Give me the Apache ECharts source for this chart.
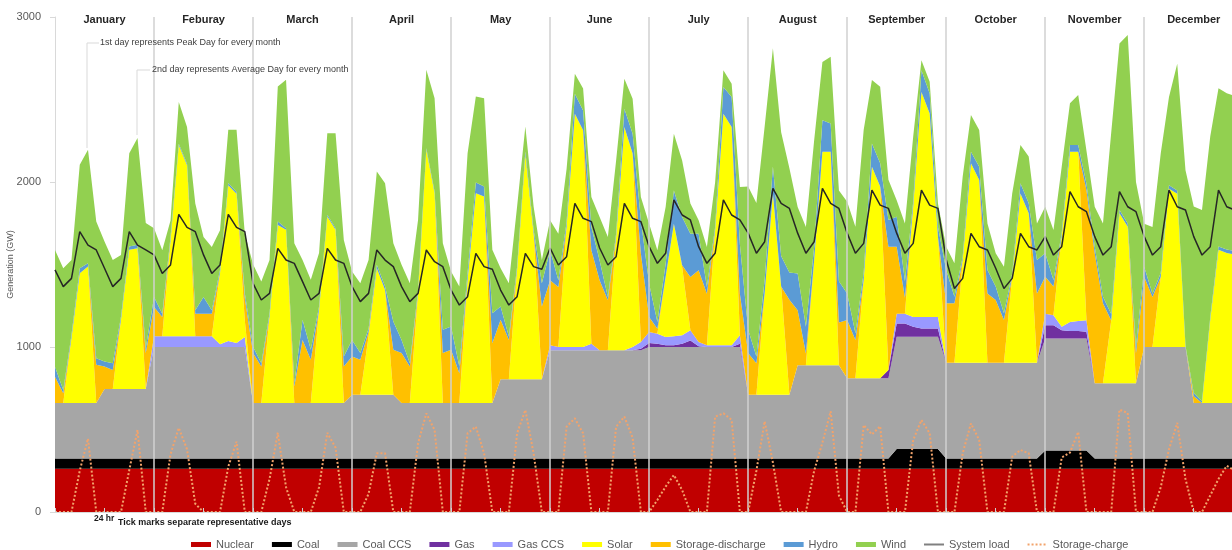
<!DOCTYPE html>
<html><head><meta charset="utf-8">
<script src="https://cdn.jsdelivr.net/npm/echarts@6/dist/echarts.min.js"></script>
<style>html,body{margin:0;padding:0;background:#fff}#c{width:1232px;height:550px}</style>
</head><body><div id="c"></div>
<script>
const months = ['January','Feburay','March','April','May','June','July','August','September','October','November','December'];
const dayNames = ['Peak day','Average day'];
const hours = ['02h','06h','10h','14h','18h','22h'];
const yMin = 0, yMax = 3000, yStep = 1000;

const nuclear = [
262,262,262,262,262,262,262,262,262,262,262,262,
262,262,262,262,262,262,262,262,262,262,262,262,
262,262,262,262,262,262,262,262,262,262,262,262,
262,262,262,262,262,262,262,262,262,262,262,262,
262,262,262,262,262,262,262,262,262,262,262,262,
262,262,262,262,262,262,262,262,262,262,262,262,
262,262,262,262,262,262,262,262,262,262,262,262,
262,262,262,262,262,262,262,262,262,262,262,262,
262,262,262,262,262,262,262,262,262,262,262,262,
262,262,262,262,262,262,262,262,262,262,262,262,
262,262,262,262,262,262,262,262,262,262,262,262,
262,262,262,262,262,262,262,262,262,262,262,262];
const coal = [
63,63,63,63,63,63,63,63,63,63,63,63,
63,63,63,63,63,63,63,63,63,63,63,63,
63,63,63,63,63,63,63,63,63,63,63,63,
63,63,63,63,63,63,63,63,63,63,63,63,
63,63,63,63,63,63,63,63,63,63,63,63,
63,63,63,63,63,63,63,63,63,63,63,63,
63,63,63,63,63,63,63,63,63,63,63,63,
63,63,63,63,63,63,63,63,63,63,63,63,
63,63,63,63,63,63,120,120,120,120,120,120,
63,63,63,63,63,63,63,63,63,63,63,63,
110,110,110,110,110,110,63,63,63,63,63,63,
63,63,63,63,63,63,63,63,63,63,63,63];
const coalCCS = [
335,335,335,335,335,335,420,420,420,420,420,420,
675,675,675,675,675,675,675,675,675,675,675,675,
335,335,335,335,335,335,335,335,335,335,335,335,
385,385,385,385,385,385,335,335,335,335,335,335,
335,335,335,335,335,335,480,480,480,480,480,480,
655,655,655,655,655,655,655,655,655,655,655,655,
675,675,675,675,675,675,675,675,675,675,675,675,
385,385,385,385,385,385,565,565,565,565,565,565,
485,485,485,485,485,485,680,680,680,680,680,680,
580,580,580,580,580,580,580,580,580,580,580,580,
680,680,680,680,680,680,455,455,455,455,455,455,
675,675,675,675,675,675,335,335,335,335,335,335];
const gas = [
0,0,0,0,0,0,0,0,0,0,0,0,
0,0,0,0,0,0,0,0,0,0,0,0,
0,0,0,0,0,0,0,0,0,0,0,0,
0,0,0,0,0,0,0,0,0,0,0,0,
0,0,0,0,0,0,0,0,0,0,0,0,
0,0,0,0,0,0,0,0,0,0,0,10,
25,20,10,10,20,40,5,0,0,0,0,20,
0,0,0,0,0,0,0,0,0,0,0,0,
0,0,0,0,0,50,80,80,60,50,50,50,
0,0,0,0,0,0,0,0,0,0,0,0,
80,80,50,45,45,40,0,0,0,0,0,0,
0,0,0,0,0,0,0,0,0,0,0,0];
const gasCCS = [
0,0,0,0,0,0,0,0,0,0,0,0,
65,65,65,65,65,65,65,65,16,36,24,61,
0,0,0,0,0,0,0,0,0,0,0,0,
0,0,0,0,0,0,0,0,0,0,0,0,
0,0,0,0,0,0,0,0,0,0,0,0,
30,20,20,20,20,40,0,0,0,0,20,40,
66,61,51,55,51,61,25,10,10,10,10,51,
0,0,0,0,0,0,0,0,0,0,0,0,
0,0,0,0,0,0,60,60,60,70,70,70,
0,0,0,0,0,0,0,0,0,0,0,0,
70,60,20,55,60,70,0,0,0,0,0,0,
0,0,0,0,0,0,0,0,0,0,0,0];
const solar = [
0,0,394,787,828,0,0,0,420,844,854,0,
0,0,581,1157,1036,0,0,0,432,944,905,100,
0,0,525,1080,1050,0,0,0,565,1131,1050,0,
0,0,354,768,636,0,0,0,666,1535,1272,0,
0,0,747,1272,1252,0,0,0,663,1360,885,0,
0,0,727,1414,1313,0,0,0,687,1353,1172,0,
0,0,363,682,414,0,0,0,697,1404,1323,0,
0,0,616,1222,657,0,0,0,636,1293,1293,0,
0,0,596,1283,1162,0,0,0,667,1364,1233,486,
0,0,622,1208,1107,0,0,0,521,1026,905,0,
0,0,547,1032,1027,0,0,0,380,1030,949,0,
0,0,424,959,929,0,0,0,505,929,909,901];
const storageDischarge = [
160,60,0,0,0,232,137,116,0,0,0,218,
177,117,0,0,0,137,137,137,0,0,0,137,
303,222,0,0,0,101,383,262,0,0,0,222,
233,212,27,0,0,273,303,222,0,0,0,303,
323,181,0,0,0,363,360,238,0,0,0,440,
394,364,0,0,0,566,424,303,0,0,0,536,
91,30,0,0,10,323,435,313,0,0,0,250,
253,192,0,0,0,576,333,71,0,0,0,259,
354,232,0,0,0,748,405,97,0,0,0,0,
360,360,0,0,0,420,380,259,0,0,0,420,
224,174,0,0,0,788,788,485,0,0,0,182,
424,303,0,0,0,0,41,0,0,0,0,0];
const hydro = [
60,20,20,31,20,40,30,40,20,20,20,30,
61,20,21,10,10,20,101,20,20,14,10,30,
38,20,20,21,10,20,122,61,20,10,10,60,
100,41,20,20,20,171,80,20,20,10,10,141,
141,41,44,65,61,182,80,21,20,20,20,142,
182,40,31,121,121,141,121,20,21,111,121,202,
202,40,81,202,293,263,222,41,20,162,182,300,
141,41,81,162,184,165,223,161,80,192,172,250,
161,41,44,141,141,162,182,100,30,132,121,61,
202,40,20,71,81,142,81,40,20,61,61,202,
142,40,20,40,40,40,40,40,40,20,20,38,
61,20,24,21,20,8,20,11,16,20,22,20];
const wind = [
708,738,454,626,687,828,727,627,373,566,647,758,
416,384,100,253,222,647,364,384,239,323,378,360,
500,495,323,818,899,848,363,424,324,495,576,707,
415,424,417,566,627,475,455,485,425,475,566,525,
334,485,724,521,535,384,233,323,363,151,141,141,
182,283,323,121,132,182,263,364,443,182,212,141,
363,435,343,344,343,182,81,242,271,101,81,349,
869,929,929,717,750,633,403,606,647,353,404,550,
555,646,865,384,465,244,101,349,395,60,71,140,
141,202,486,222,222,282,202,283,485,232,283,222,
282,303,404,253,303,200,242,444,1100,1010,1142,1000,
262,404,724,535,768,1063,1130,1160,1095,959,947,940];
const systemLoad = [
1467,1366,1416,1699,1618,1588,1477,1366,1416,1699,1618,1588,
1558,1446,1497,1804,1725,1699,1558,1446,1497,1804,1725,1699,
1386,1285,1325,1598,1527,1507,1396,1285,1325,1598,1527,1507,
1366,1275,1325,1588,1527,1487,1366,1275,1325,1588,1517,1487,
1345,1254,1305,1568,1487,1471,1345,1254,1305,1568,1487,1471,
1600,1497,1547,1871,1780,1760,1600,1497,1547,1871,1780,1760,
1608,1507,1568,1891,1800,1770,1608,1507,1568,1891,1800,1770,
1690,1568,1638,1962,1871,1840,1690,1568,1638,1962,1871,1840,
1690,1568,1628,1951,1860,1840,1690,1568,1628,1951,1860,1840,
1530,1355,1416,1689,1608,1588,1477,1355,1416,1689,1608,1588,
1669,1557,1608,1941,1850,1820,1669,1557,1608,1941,1850,1820,
1669,1557,1608,1951,1850,1830,1669,1557,1608,1951,1850,1830];
const storageCharge = [
0,0,0,250,445,0,0,0,0,254,497,0,
0,0,350,510,380,50,0,0,0,275,426,0,
0,0,200,480,150,0,0,0,150,480,390,0,
0,0,110,356,356,0,0,0,416,598,497,0,
0,0,477,517,356,0,0,0,477,618,356,0,
0,0,517,568,477,0,0,0,517,578,450,0,
0,73,154,224,133,0,0,0,578,598,558,0,
0,250,550,300,0,0,0,0,250,420,610,100,
0,0,527,470,520,0,0,0,436,558,477,0,
0,0,356,537,436,0,0,0,335,376,356,0,
0,0,330,360,485,0,0,0,0,620,600,0,
0,0,150,380,540,200,0,0,100,200,280,250];

const categories = months.flatMap(m => dayNames.flatMap(d => hours.map(h => m + ' ' + d + ' ' + h)));
const FONT = 'Liberation Sans, Arial, sans-serif';

const areaDefs = [
  ['Nuclear', nuclear, '#C00000'],
  ['Coal', coal, '#000000'],
  ['Coal CCS', coalCCS, '#A6A6A6'],
  ['Gas', gas, '#7030A0'],
  ['Gas CCS', gasCCS, '#9999FF'],
  ['Solar', solar, '#FFFF00'],
  ['Storage-discharge', storageDischarge, '#FFC000'],
  ['Hydro', hydro, '#5B9BD5'],
  ['Wind', wind, '#92D050']
];

const series = areaDefs.map(([name, data, color]) => ({
  name, type: 'line', stack: 'gen', data, color,
  symbol: 'none', showSymbol: false,
  lineStyle: { width: 0 },
  areaStyle: { color, opacity: 1 },
  itemStyle: { color },
  emphasis: { disabled: true },
  silent: true
}));

series.push({
  name: 'System load', type: 'line', data: systemLoad, color: '#262626',
  symbol: 'none', showSymbol: false, z: 4,
  lineStyle: { width: 1.5, color: '#262626' },
  itemStyle: { color: '#808080' },
  emphasis: { disabled: true }, silent: true
});
series.push({
  name: 'Storage-charge', type: 'line', data: storageCharge, color: '#F2A36B',
  symbol: 'none', showSymbol: false, z: 5,
  lineStyle: { width: 2, color: '#F2A36B', type: 'dotted' },
  itemStyle: { color: '#F2A36B' },
  emphasis: { disabled: true }, silent: true,
  markLine: {
    silent: true, symbol: ['none', 'none'], animation: false,
    label: { show: false },
    lineStyle: { color: '#d0d0d0', width: 1.5, type: 'solid' },
    data: months.slice(1).map((m, k) => ({ xAxis: categories[(k + 1) * 12] }))
  }
});

const lineIcon = 'path://M0,0H20V2H0Z';
const dotIcon = 'path://M0,0h2v2h-2zM4,0h2v2h-2zM8,0h2v2h-2zM12,0h2v2h-2zM16,0h2v2h-2zM20,0h0.01v2h-0.01z';

const chart = echarts.init(document.getElementById('c'), null, { renderer: 'canvas' });
chart.setOption({
  animation: false,
  backgroundColor: '#ffffff',
  textStyle: { fontFamily: FONT },
  grid: { left: 55, right: -3, top: 17, bottom: 38, containLabel: false, outerBoundsMode: 'none' },
  legend: {
    left: 186, top: 534, itemWidth: 20, itemHeight: 5, itemGap: 18,
    textStyle: { color: '#595959', fontSize: 11, fontFamily: FONT },
    data: areaDefs.map(d => ({ name: d[0], icon: 'rect' })).concat([
      { name: 'System load', icon: lineIcon, itemStyle: { color: '#808080' } },
      { name: 'Storage-charge', icon: dotIcon, itemStyle: { color: '#F2A36B' } }
    ])
  },
  xAxis: [{
    type: 'category', data: categories, boundaryGap: false, z: 10,
    axisLine: { show: true, lineStyle: { color: '#d9d9d9', width: 1 } },
    axisTick: { show: true, interval: 5, inside: true, length: 4, lineStyle: { color: '#cfcfcf' } },
    axisLabel: { show: false }, splitLine: { show: false }
  }, {
    type: 'category', data: categories, boundaryGap: false, position: 'top',
    axisLine: { show: false }, axisTick: { show: false }, splitLine: { show: false },
    axisLabel: {
      inside: true, margin: -3,
      interval: (i) => i % 12 === 6,
      formatter: (v, i) => months[Math.floor(i / 12)],
      fontWeight: 'bold', fontSize: 11, color: '#262626', fontFamily: FONT
    }
  }],
  yAxis: {
    type: 'value', min: yMin, max: yMax, interval: yStep,
    name: 'Generation (GW)', nameLocation: 'middle', nameGap: 40, nameRotate: 90,
    nameMoveOverlap: false,
    nameTextStyle: { color: '#595959', fontSize: 9, fontFamily: FONT },
    axisLine: { show: true, lineStyle: { color: '#d9d9d9' } },
    axisTick: { show: true, length: 5, lineStyle: { color: '#d9d9d9' } },
    axisLabel: { color: '#595959', fontSize: 11, margin: 14, fontFamily: FONT, formatter: (v) => String(v) },
    splitLine: { show: false }
  },
  graphic: [
    { type: 'line', shape: { x1: 87, y1: 43, x2: 87, y2: 148 }, style: { stroke: '#d9d9d9', lineWidth: 1 }, z: 100 },
    { type: 'line', shape: { x1: 87, y1: 43, x2: 99, y2: 43 }, style: { stroke: '#d9d9d9', lineWidth: 1 }, z: 100 },
    { type: 'text', left: 100, top: 38, z: 100, style: { text: '1st day represents Peak Day for every month', fill: '#404040', font: '9px ' + FONT } },
    { type: 'line', shape: { x1: 137, y1: 70, x2: 137, y2: 135 }, style: { stroke: '#d9d9d9', lineWidth: 1 }, z: 100 },
    { type: 'line', shape: { x1: 137, y1: 70, x2: 150, y2: 70 }, style: { stroke: '#d9d9d9', lineWidth: 1 }, z: 100 },
    { type: 'text', left: 152, top: 65, z: 100, style: { text: '2nd day represents Average Day for every month', fill: '#404040', font: '9px ' + FONT } },
    { type: 'text', left: 94, top: 514, z: 100, style: { text: '24 hr', fill: '#1a1a1a', font: 'bold 8.5px ' + FONT } },
    { type: 'text', left: 118, top: 518, z: 100, style: { text: 'Tick marks separate representative days', fill: '#1a1a1a', font: 'bold 9px ' + FONT } }
  ],
  series
});
</script>
</body></html>
